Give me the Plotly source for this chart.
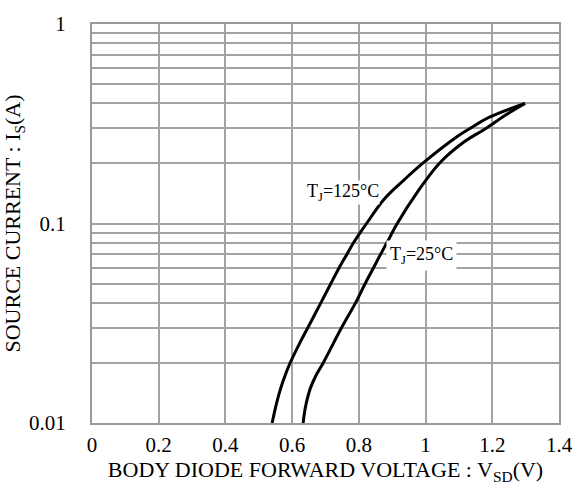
import plotly.graph_objects as go

# Data
v_125 = [0.540, 0.553, 0.566, 0.580, 0.594, 0.622, 0.647, 0.686, 0.716, 0.741, 0.764, 0.784, 0.804,
         0.823, 0.875, 0.935, 0.991, 1.095, 1.134, 1.193, 1.298]
i_125 = [0.010, 0.0125, 0.015, 0.0175, 0.020, 0.025, 0.030, 0.040, 0.050, 0.060, 0.070, 0.080, 0.090,
         0.100, 0.132, 0.165, 0.200, 0.273, 0.300, 0.342, 0.400]

v_25 = [0.633, 0.636, 0.642, 0.655, 0.673, 0.693, 0.748, 0.790, 0.819, 0.844, 0.865, 0.884, 0.915,
        0.976, 1.041, 1.115, 1.182, 1.240, 1.298]
i_25 = [0.010, 0.011, 0.0125, 0.015, 0.0175, 0.020, 0.030, 0.040, 0.050, 0.060, 0.070, 0.080, 0.100,
        0.144, 0.200, 0.256, 0.300, 0.350, 0.400]

x_ticks = [0, 0.2, 0.4, 0.6, 0.8, 1.0, 1.2, 1.4]
y_grid = [m * d for d in [0.01, 0.1] for m in range(1, 10)] + [1.0]
y_labels = {0.01: "0.01", 0.1: "0.1", 1.0: "1"}

FONT = "Liberation Serif, Times New Roman, serif"
GRID = "#a3a3a3"

fig = go.Figure()
fig.add_trace(go.Scatter(x=v_125, y=i_125, mode="lines",
                         line=dict(color="black", width=3, shape="spline", smoothing=1.0),
                         showlegend=False, hoverinfo="skip"))
fig.add_trace(go.Scatter(x=v_25, y=i_25, mode="lines",
                         line=dict(color="black", width=3, shape="spline", smoothing=1.0),
                         showlegend=False, hoverinfo="skip"))

fig.add_annotation(x=0.752, y=-0.845, xref="x", yref="y", text="T<sub>J</sub>=125°C",
                   showarrow=False, font=dict(family=FONT, size=18, color="black"),
                   bgcolor="white", borderpad=0)
fig.add_annotation(x=0.987, y=-1.162, xref="x", yref="y", text="T<sub>J</sub>=25°C",
                   showarrow=False, font=dict(family=FONT, size=18, color="black"),
                   bgcolor="white", borderpad=3)

fig.update_xaxes(range=[0, 1.4], tickvals=x_ticks, ticktext=[f"{t:g}" for t in x_ticks],
                 showgrid=True, gridcolor=GRID, gridwidth=1.5,
                 showline=True, linecolor="#999999", linewidth=2, mirror=True,
                 ticks="", ticklabelstandoff=2, zeroline=False,
                 tickfont=dict(family=FONT, size=21, color="black"),
                 title=dict(text="BODY DIODE FORWARD VOLTAGE : V<sub>SD</sub>(V)",
                            font=dict(family=FONT, size=22, color="black"), standoff=0))
fig.update_yaxes(type="log", range=[-2, 0], tickvals=y_grid,
                 ticktext=[y_labels.get(round(v, 4), "") for v in y_grid],
                 showgrid=True, gridcolor=GRID, gridwidth=1.5,
                 showline=True, linecolor="#999999", linewidth=2, mirror=True,
                 ticks="", ticklabelstandoff=20, zeroline=False,
                 tickfont=dict(family=FONT, size=21, color="black"),
                 title=dict(text="SOURCE CURRENT : I<sub>S</sub>(A)",
                            font=dict(family=FONT, size=22, color="black"), standoff=2))

fig.update_layout(width=585, height=492, margin=dict(l=91, r=22, t=15, b=69),
                  plot_bgcolor="white", paper_bgcolor="white",
                  font=dict(family=FONT, color="black"))

fig.write_html("out.html")
